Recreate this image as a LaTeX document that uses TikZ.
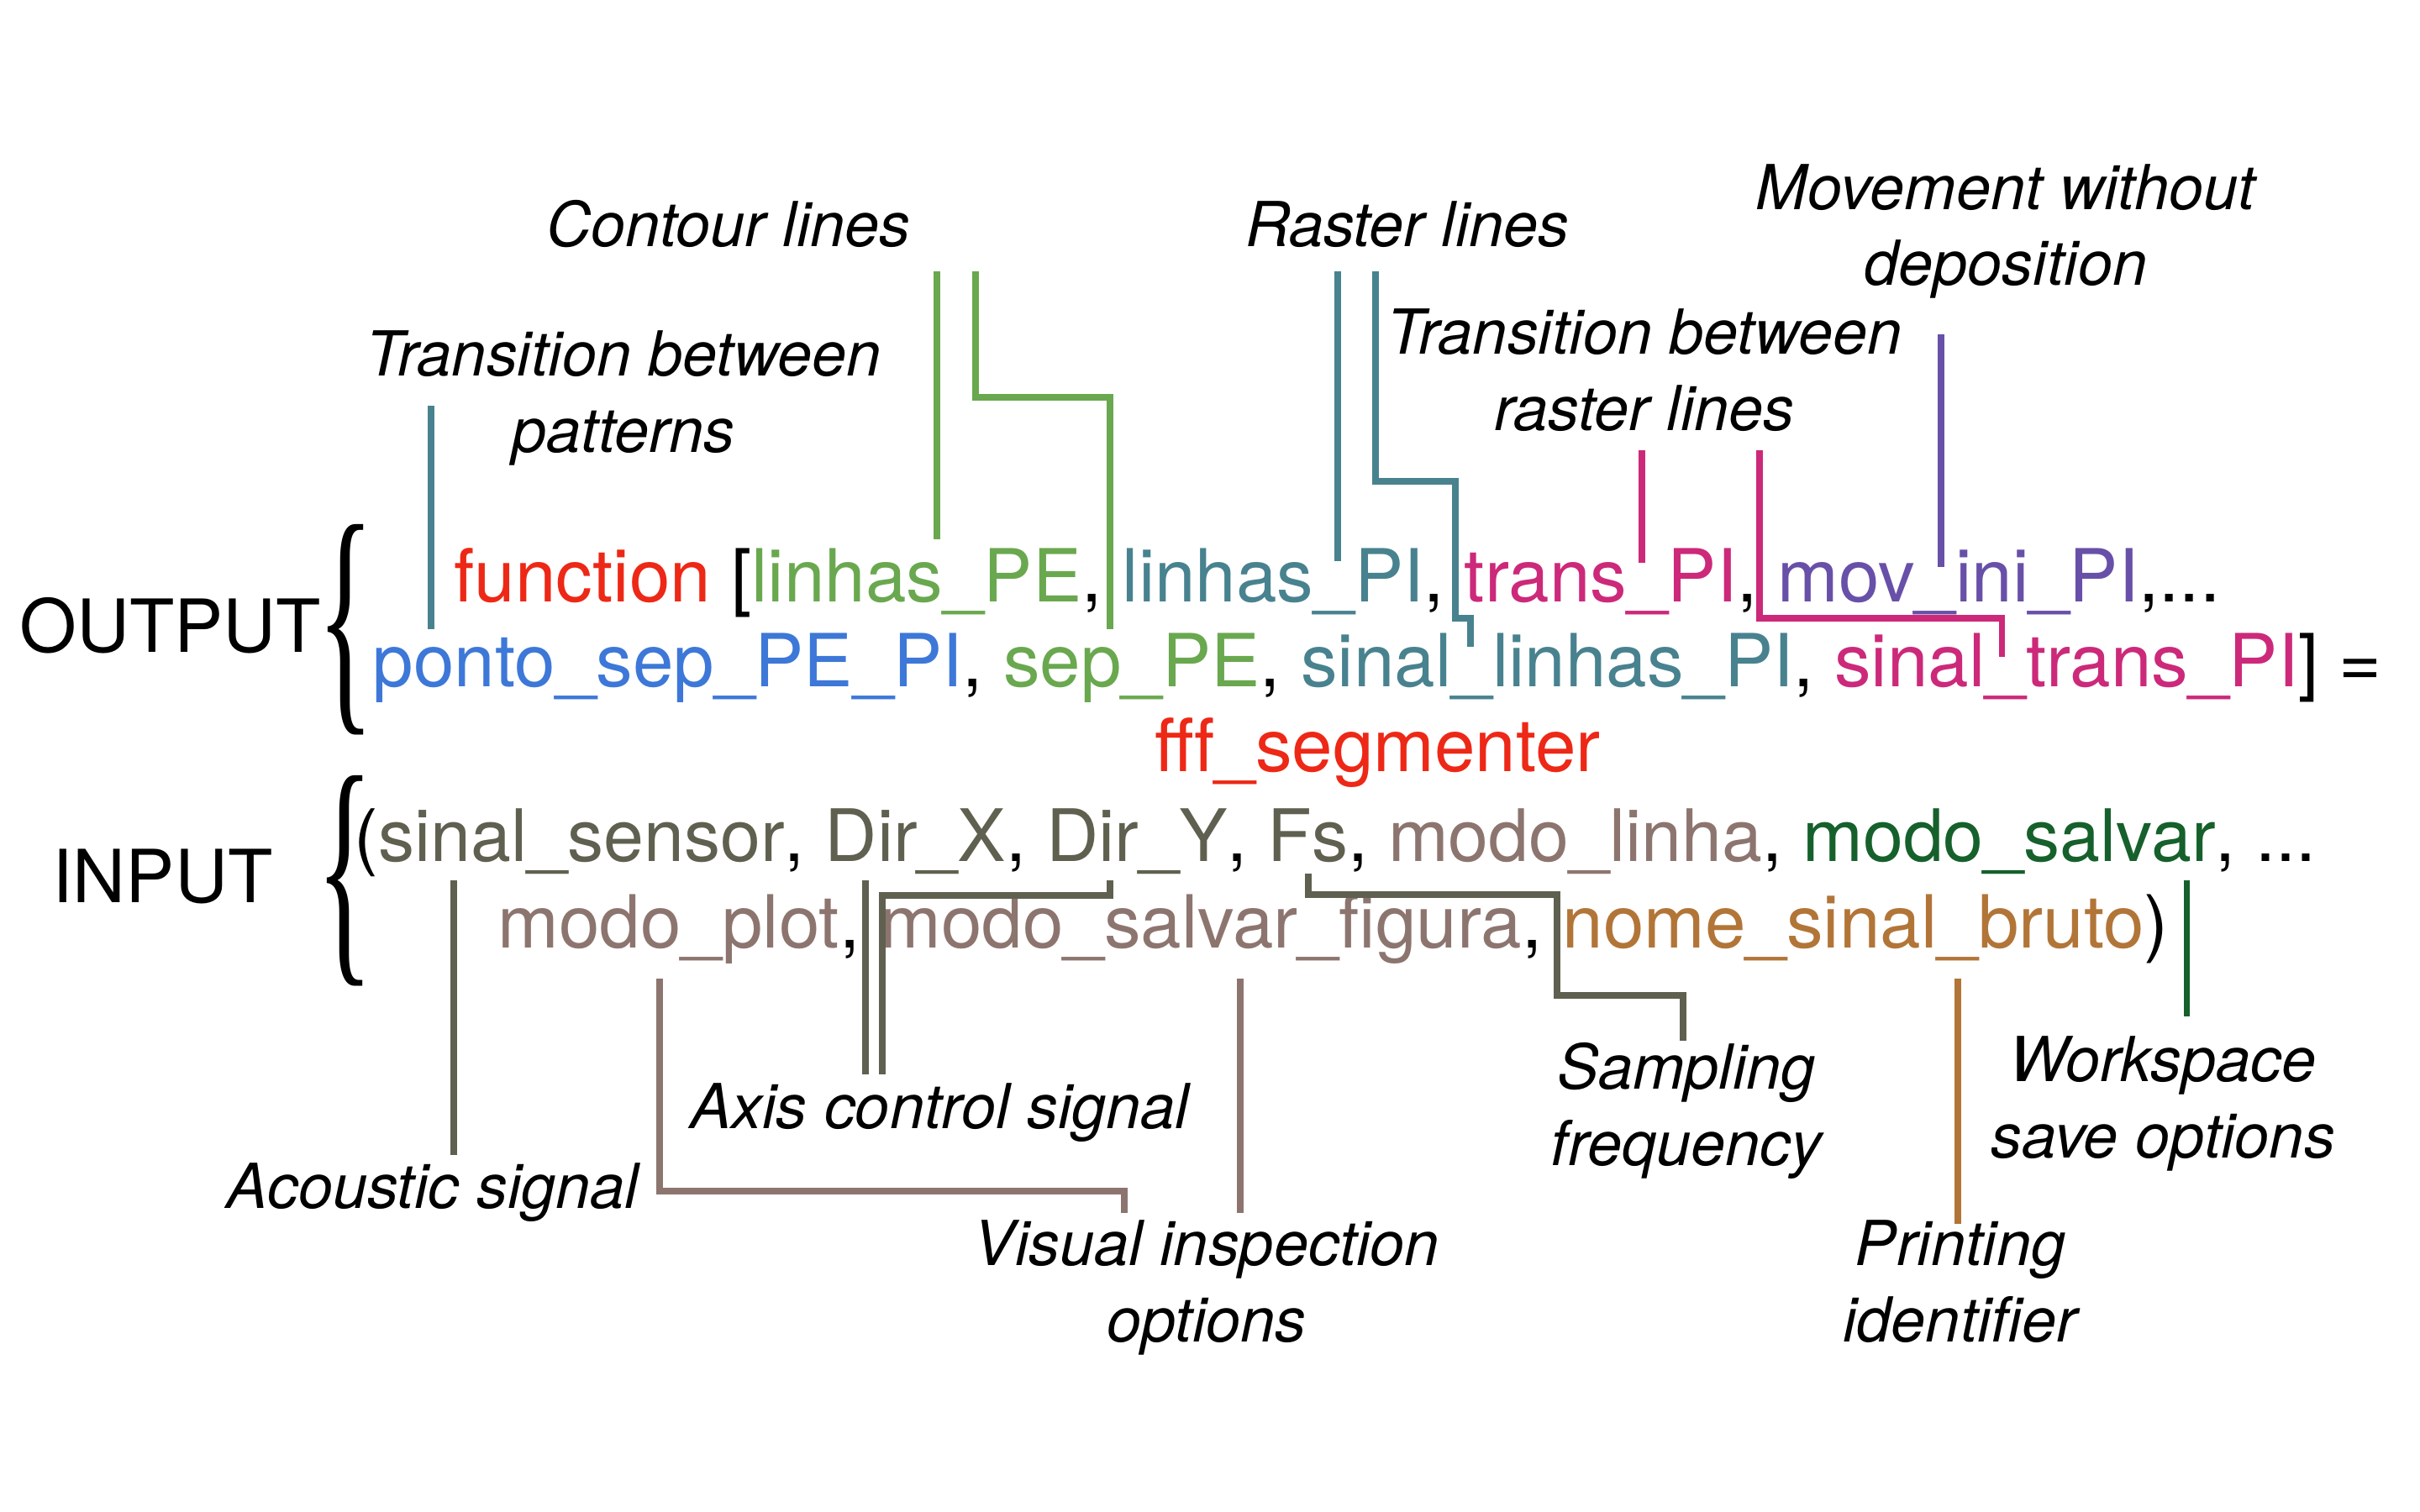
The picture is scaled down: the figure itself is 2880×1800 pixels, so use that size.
\documentclass[tikz,border=0pt]{standalone}
\usepackage{graphicx}
\usepackage{fontspec}
\setmainfont{TeX Gyre Heros}
\newfontfamily\bracefont{Liberation Serif}
\definecolor{fnred}{RGB}{237,40,22}
\definecolor{pegreen}{RGB}{106,168,79}
\definecolor{piteal}{RGB}{72,130,143}
\definecolor{trmag}{RGB}{204,41,122}
\definecolor{movpur}{RGB}{104,80,168}
\definecolor{sepblue}{RGB}{61,120,216}
\definecolor{sigolive}{RGB}{96,96,80}
\definecolor{modtaupe}{RGB}{141,117,111}
\definecolor{savgreen}{RGB}{22,96,44}
\definecolor{nomebrown}{RGB}{178,117,56}
\begin{document}
\begin{tikzpicture}[x=0.01cm,y=-0.01cm,every node/.style={inner sep=0pt},
  code/.style={anchor=base west,font=\fontsize{24.8}{29}\selectfont},
  lbl/.style={anchor=base,align=center,font=\fontsize{21}{25.6}\selectfont\itshape},
  brace/.style={font=\bracefont},
  lead/.style={line width=2pt}]
\useasboundingbox (0,0) rectangle (2880,1800);

\node[code] (outword) at (23,776) {OUTPUT};
\node[brace] (outbrace) at (412,750) {\resizebox{0.68cm}{2.1cm}{\{}};
\node[code] (out1) at (540,716) {\textcolor{fnred}{function} [\textcolor{pegreen}{linhas\_PE}, \textcolor{piteal}{linhas\_PI}, \textcolor{trmag}{trans\_PI}, \textcolor{movpur}{mov\_ini\_PI},...};
\node[code] (out2) at (443,817) {\textcolor{sepblue}{ponto\_sep\_PE\_PI}, \textcolor{pegreen}{sep\_PE}, \textcolor{piteal}{sinal\_linhas\_PI}, \textcolor{trmag}{sinal\_trans\_PI}] =};
\node[code] (fname) at (1374,918) {\textcolor{fnred}{fff\_segmenter}};
\node[code] (inword) at (62,1074) {INPUT};
\node[brace] (inbrace) at (411,1049) {\resizebox{0.68cm}{2.1cm}{\{}};
\node[code,font=\fontsize{24.5}{29}\selectfont] (in1) at (421,1025) {(\textcolor{sigolive}{sinal\_sensor}, \textcolor{sigolive}{Dir\_X}, \textcolor{sigolive}{Dir\_Y}, \textcolor{sigolive}{Fs}, \textcolor{modtaupe}{modo\_linha}, \textcolor{savgreen}{modo\_salvar}, ...};
\node[code] (in2) at (592,1128) {\textcolor{modtaupe}{modo\_plot}, \textcolor{modtaupe}{modo\_salvar\_figura}, \textcolor{nomebrown}{nome\_sinal\_bruto})};

\node[lbl] (contour) at (867,294) {Contour lines};
\node[lbl] (pattern) at (742,538) {Transition between\\patterns};
\node[lbl] (raster) at (1675,294) {Raster lines};
\node[lbl] (rastertr) at (1957,512) {Transition between\\raster lines};
\node[lbl] (movement) at (2387,340) {Movement without\\deposition};
\node[lbl] (acoustic) at (515,1438) {Acoustic signal};
\node[lbl] (axis) at (1118,1343) {Axis control signal};
\node[lbl] (visual) at (1436,1597) {Visual inspection\\options};
\node[lbl] (sampling) at (2007,1387) {Sampling\\frequency};
\node[lbl] (printing) at (2333,1597) {Printing\\identifier};
\node[lbl] (workspace) at (2574,1378) {Workspace\\save options};

\coordinate (pat-s) at (513,483);    \coordinate (pat-e) at (513,749);
\coordinate (cnt1-s) at (1115,323);  \coordinate (cnt1-e) at (1115,642);
\coordinate (cnt2-s) at (1161,323);  \coordinate (cnt2-e) at (1321,749);
\coordinate (ras1-s) at (1592,323);  \coordinate (ras1-e) at (1592,668);
\coordinate (ras2-s) at (1637,323);  \coordinate (ras2-e) at (1750,770);
\coordinate (rtr1-s) at (1954,536);  \coordinate (rtr1-e) at (1954,670);
\coordinate (rtr2-s) at (2094,536);  \coordinate (rtr2-e) at (2382,782);
\coordinate (mov-s) at (2310,398);   \coordinate (mov-e) at (2310,675);
\coordinate (aco-s) at (540,1048);   \coordinate (aco-e) at (540,1375);
\coordinate (axs1-s) at (1030,1048); \coordinate (axs1-e) at (1030,1279);
\coordinate (axs2-s) at (1321,1048); \coordinate (axs2-e) at (1050,1279);
\coordinate (fs-s) at (1557,1040);   \coordinate (fs-e) at (2003,1239);
\coordinate (vis1-s) at (785,1165);  \coordinate (vis1-e) at (1338,1444);
\coordinate (vis2-s) at (1476,1165); \coordinate (vis2-e) at (1476,1444);
\coordinate (prn-s) at (2330,1165);  \coordinate (prn-e) at (2330,1457);
\coordinate (wks-s) at (2602,1048);  \coordinate (wks-e) at (2602,1210);

\draw[lead,piteal] (pat-s) -- (pat-e);
\draw[lead,pegreen] (cnt1-s) -- (cnt1-e);
\draw[lead,pegreen] (cnt2-s) -- ++(0,150) -| (cnt2-e);
\draw[lead,piteal] (ras1-s) -- (ras1-e);
\draw[lead,piteal] (ras2-s) -- ++(0,250) -| ++(95,163) -| (ras2-e);
\draw[lead,trmag] (rtr1-s) -- (rtr1-e);
\draw[lead,trmag] (rtr2-s) -- ++(0,200) -| (rtr2-e);
\draw[lead,movpur] (mov-s) -- (mov-e);
\draw[lead,sigolive] (aco-s) -- (aco-e);
\draw[lead,sigolive] (axs1-s) -- (axs1-e);
\draw[lead,sigolive] (axs2-s) -- ++(0,18) -| (axs2-e);
\draw[lead,sigolive] (fs-s) -- ++(0,25) -| ++(296,120) -| (fs-e);
\draw[lead,modtaupe] (vis1-s) -- ++(0,253) -| (vis1-e);
\draw[lead,modtaupe] (vis2-s) -- (vis2-e);
\draw[lead,nomebrown] (prn-s) -- (prn-e);
\draw[lead,savgreen] (wks-s) -- (wks-e);
\end{tikzpicture}
\end{document}
